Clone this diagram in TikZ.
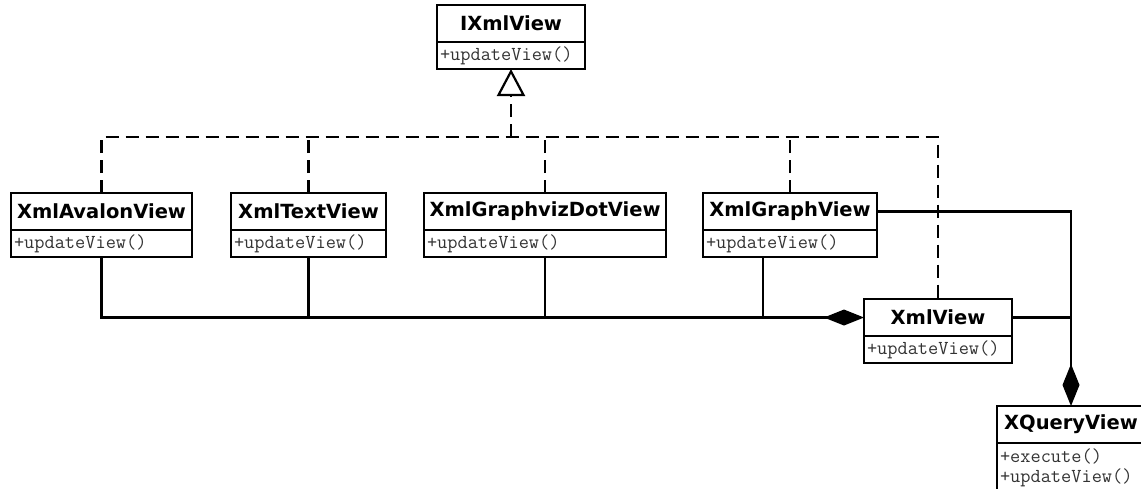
\documentclass[tikz,border=0pt]{standalone}
\usepackage{fontspec}
\usepackage{tikz}
\usetikzlibrary{arrows.meta,positioning}
\newfontfamily\headfont{DejaVu Sans}
\tikzset{
classhead/.style={draw, line width=1.8pt, anchor=north west, inner sep=0pt, outer sep=0pt, minimum height=37pt, font=\headfont\bfseries\fontsize{19.5}{22}\selectfont},
classops/.style={draw, line width=1.8pt, anchor=north west, inner xsep=2pt, inner ysep=0pt, outer sep=0pt, minimum height=27pt, align=left, text=black!80, font=\ttfamily\fontsize{19.8}{20}\selectfont},
realize/.style={line width=2.6pt, dash pattern=on 13pt off 7pt},
link/.style={line width=2.6pt},
}

\begin{document}
\begin{tikzpicture}[x=1pt,y=-1pt]
\useasboundingbox (0,0) rectangle (1141,488);
\clip (0,0) rectangle (1141,488);
\foreach \n/\t/\x/\y/\w in {ixmlview/IXmlView/437/5/148, avalonview/XmlAvalonView/11/193/181, textview/XmlTextView/231/193/155, dotview/XmlGraphvizDotView/424/193/242, graphview/XmlGraphView/703/193/174, xmlview/XmlView/864/299/148}{
\pgfmathsetmacro\tw{\w-6}
\node[classhead, minimum width=\w pt] (\n) at (\x,\y) {\t};
\node[classops, minimum width=\w pt, text width=\tw pt] (\n-ops) at (\n.south west) {+updateView()};}
\node[classhead, minimum width=148pt] (xqueryview) at (997,406) {XQueryView};
\node[classops, minimum width=148pt, minimum height=50pt, text width=142pt] (xqueryview-ops) at (xqueryview.south west) {+execute()\\+updateView()};

\coordinate (busy) at (0,137);
\draw[realize] (avalonview.north) |- (xmlview.north |- busy) -- (xmlview.north);
\foreach \n in {textview,dotview,graphview}{
\draw[realize] (\n.north) -- (\n.north |- busy);}
\draw[realize, -{Triangle[open, length=27pt, width=28pt, line width=2.2pt]}] (ixmlview-ops.south |- busy) -- (ixmlview-ops.south);

\draw[link, -{Diamond[length=40pt, width=16pt]}] (avalonview-ops.south) |- (xmlview.west);
\foreach \n in {textview,dotview}{
\draw[link] (\n-ops.south) -- (\n-ops.south |- xmlview.west);}
\draw[link] ([xshift=-27pt]graphview-ops.south) -- ([xshift=-27pt]graphview-ops.south |- xmlview.west);
\draw[link, -{Diamond[length=42pt, width=17pt]}] (graphview.east) -| (xqueryview.north);
\draw[link] (xmlview.east) -- (xmlview.east -| xqueryview.north);
\end{tikzpicture}
\end{document}
